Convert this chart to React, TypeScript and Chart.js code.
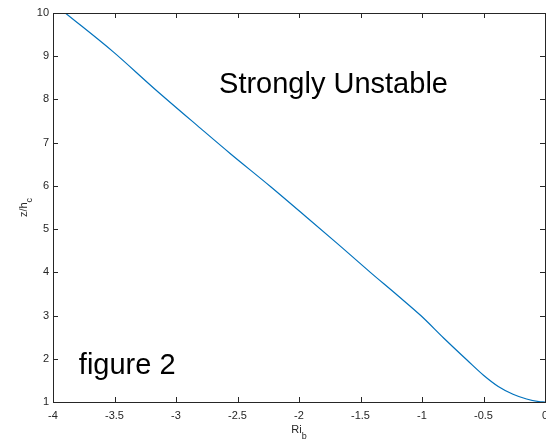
import React, { useEffect, useRef } from "react";
import { Chart, registerables } from "chart.js";

Chart.register(...registerables);

const riValues = [-3.90, -3.51, -3.18, -2.80, -2.56, -2.23, -1.99, -1.69, -1.42, -1.20, -1.01, -0.82, -0.63, -0.50, -0.38, -0.26, -0.15, -0.05, 0.0];
const zValues = [10, 9.10, 8.26, 7.33, 6.75, 5.98, 5.40, 4.67, 4.00, 3.47, 3.00, 2.47, 1.96, 1.62, 1.36, 1.18, 1.07, 1.01, 1.0];

const xTicks = [-4, -3.5, -3, -2.5, -2, -1.5, -1, -0.5, 0];
const xTickLabels = ["-4", "-3.5", "-3", "-2.5", "-2", "-1.5", "-1", "-0.5", "0"];
const yTicks = [1, 2, 3, 4, 5, 6, 7, 8, 9, 10];
const yTickLabels = ["1", "2", "3", "4", "5", "6", "7", "8", "9", "10"];

const annotations = [
  { text: "Strongly Unstable", x: -2.65, y: 8.15 },
  { text: "figure 2", x: -3.79, y: 1.65 },
];

const FONT = '"Liberation Sans", Arial, Helvetica, sans-serif';
const AXIS_COLOR = "#262626";

const axesPlugin = {
  id: "matlabAxes",
  afterDraw(chart: any) {
    const { ctx, chartArea, scales } = chart;
    const xs = scales.x;
    const ys = scales.y;
    const { left, right, top, bottom } = chartArea;
    ctx.save();
    ctx.strokeStyle = AXIS_COLOR;
    ctx.lineWidth = 1;
    ctx.strokeRect(left + 0.5, top + 0.5, right - left, bottom - top);
    const tl = 5;
    ctx.beginPath();
    xTicks.forEach((v) => {
      const px = Math.round(xs.getPixelForValue(v)) + 0.5;
      ctx.moveTo(px, bottom);
      ctx.lineTo(px, bottom - tl);
      ctx.moveTo(px, top);
      ctx.lineTo(px, top + tl);
    });
    yTicks.forEach((v) => {
      const py = Math.round(ys.getPixelForValue(v)) + 0.5;
      ctx.moveTo(left, py);
      ctx.lineTo(left + tl, py);
      ctx.moveTo(right, py);
      ctx.lineTo(right - tl, py);
    });
    ctx.stroke();

    ctx.fillStyle = AXIS_COLOR;
    ctx.font = `11px ${FONT}`;
    ctx.textAlign = "center";
    ctx.textBaseline = "alphabetic";
    xTicks.forEach((v, i) => {
      ctx.fillText(xTickLabels[i], xs.getPixelForValue(v), bottom + 17);
    });
    ctx.textAlign = "right";
    ctx.textBaseline = "middle";
    yTicks.forEach((v, i) => {
      ctx.fillText(yTickLabels[i], left - 4, ys.getPixelForValue(v));
    });

    // x label Ri_b
    const cx = (left + right) / 2;
    ctx.textBaseline = "alphabetic";
    ctx.textAlign = "left";
    ctx.font = `11px ${FONT}`;
    const riW = ctx.measureText("Ri").width;
    ctx.font = `9px ${FONT}`;
    const bW = ctx.measureText("b").width;
    const startX = cx - (riW + bW) / 2;
    ctx.font = `11px ${FONT}`;
    ctx.fillText("Ri", startX, bottom + 31);
    ctx.font = `9px ${FONT}`;
    ctx.fillText("b", startX + riW, bottom + 37);

    // y label z/h_c
    const cy = (top + bottom) / 2;
    ctx.save();
    ctx.translate(27, cy);
    ctx.rotate(-Math.PI / 2);
    ctx.font = `11px ${FONT}`;
    const zW = ctx.measureText("z/h").width;
    ctx.font = `9px ${FONT}`;
    const cW = ctx.measureText("c").width;
    const sx = -(zW + cW) / 2;
    ctx.font = `11px ${FONT}`;
    ctx.fillText("z/h", sx, 0);
    ctx.font = `9px ${FONT}`;
    ctx.fillText("c", sx + zW, 5);
    ctx.restore();

    // annotations
    ctx.fillStyle = "#000000";
    ctx.font = `29px ${FONT}`;
    ctx.textAlign = "left";
    ctx.textBaseline = "alphabetic";
    annotations.forEach((a) => {
      ctx.fillText(a.text, xs.getPixelForValue(a.x), ys.getPixelForValue(a.y));
    });
    ctx.restore();
  },
};

export default function App() {
  const ref = useRef<HTMLCanvasElement>(null);
  useEffect(() => {
    if (!ref.current) return;
    const chart = new Chart(ref.current, {
      type: "line",
      data: {
        datasets: [
          {
            data: riValues.map((x, i) => ({ x, y: zValues[i] })),
            borderColor: "#0072BD",
            borderWidth: 1.2,
            pointRadius: 0,
            cubicInterpolationMode: "monotone",
            fill: false,
          },
        ],
      },
      options: {
        responsive: false,
        animation: false,
        layout: { padding: { left: 53, right: 1, top: 13, bottom: 41 } },
        plugins: { legend: { display: false }, tooltip: { enabled: false } },
        scales: {
          x: { type: "linear", min: -4, max: 0, display: false },
          y: { type: "linear", min: 1, max: 10, display: false },
        },
      },
      plugins: [axesPlugin],
    } as any);
    return () => chart.destroy();
  }, []);
  return (
    <div style={{ position: "fixed", left: 0, top: 0, width: 546, height: 443, background: "#fff" }}>
      <canvas ref={ref} width={546} height={443} style={{ display: "block" }} />
    </div>
  );
}
